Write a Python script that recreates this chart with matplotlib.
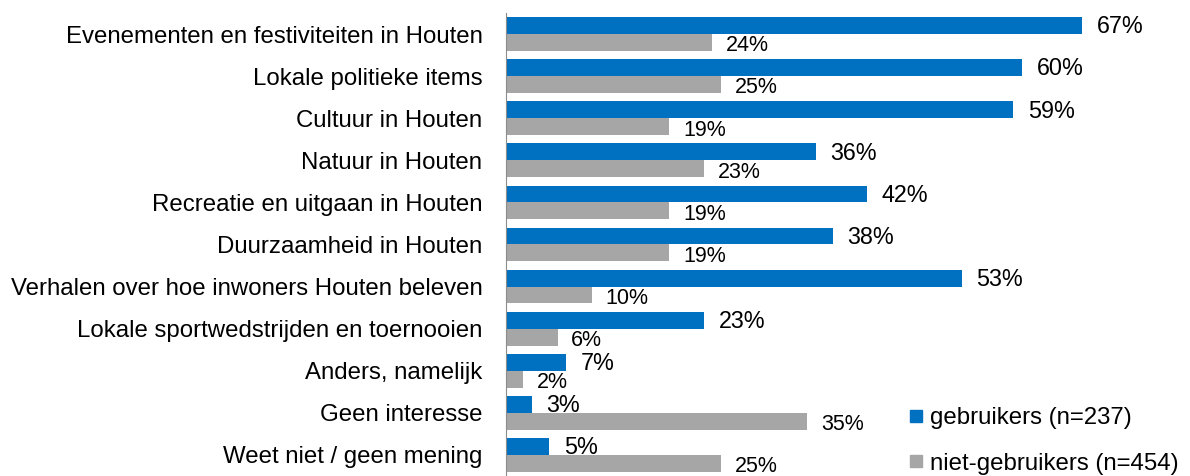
import matplotlib.pyplot as plt
import numpy as np
from matplotlib.lines import Line2D

CATEGORIES = [
    "Evenementen en festiviteiten in Houten",
    "Lokale politieke items",
    "Cultuur in Houten",
    "Natuur in Houten",
    "Recreatie en uitgaan in Houten",
    "Duurzaamheid in Houten",
    "Verhalen over hoe inwoners Houten beleven",
    "Lokale sportwedstrijden en toernooien",
    "Anders, namelijk",
    "Geen interesse",
    "Weet niet / geen mening",
]
GEBRUIKERS = [67, 60, 59, 36, 42, 38, 53, 23, 7, 3, 5]
NIET_GEBRUIKERS = [24, 25, 19, 23, 19, 19, 10, 6, 2, 35, 25]
SERIES_LABELS = ["gebruikers (n=237)", "niet-gebruikers (n=454)"]

BLUE = "#0070C0"
GRAY = "#A6A6A6"

plt.rcParams["font.family"] = ["Liberation Sans", "DejaVu Sans"]

fig = plt.figure(figsize=(11.9, 4.76), dpi=100)
ax = fig.add_axes([506 / 1190, 0.0, 1 - 506 / 1190, 1 - 13 / 476])

y = np.arange(len(CATEGORIES))
h = 0.40
ax.barh(y - h / 2, GEBRUIKERS, height=h, color=BLUE)
ax.barh(y + h / 2, NIET_GEBRUIKERS, height=h, color=GRAY)

for yi, v in zip(y, GEBRUIKERS):
    ax.text(v + 1.7, yi - h / 2 + 0.03, f"{v}%", va="center", ha="left", fontsize=16.8)
for yi, v in zip(y, NIET_GEBRUIKERS):
    ax.text(v + 1.6, yi + h / 2 + 0.08, f"{v}%", va="center", ha="left", fontsize=15.5)

ax.set_ylim(len(CATEGORIES) - 0.5, -0.5)
ax.set_xlim(0, (1190 - 506) / 8.6)
ax.set_yticks(y)
ax.set_yticklabels(CATEGORIES, fontsize=17.3)
ax.tick_params(axis="y", length=0, pad=17)
ax.set_xticks([])
for side in ["top", "right", "bottom"]:
    ax.spines[side].set_visible(False)
ax.spines["left"].set_color("#8C8C8C")

handles = [
    Line2D([], [], marker="s", linestyle="", color=BLUE, markersize=9),
    Line2D([], [], marker="s", linestyle="", color=GRAY, markersize=9),
]
fig.legend(handles, SERIES_LABELS, loc="lower left", bbox_to_anchor=(884 / 1190, -0.043),
           frameon=False, fontsize=17.3, handletextpad=0.1, labelspacing=0.98,
           handlelength=0.9)

fig.savefig("out.png", dpi=100)
